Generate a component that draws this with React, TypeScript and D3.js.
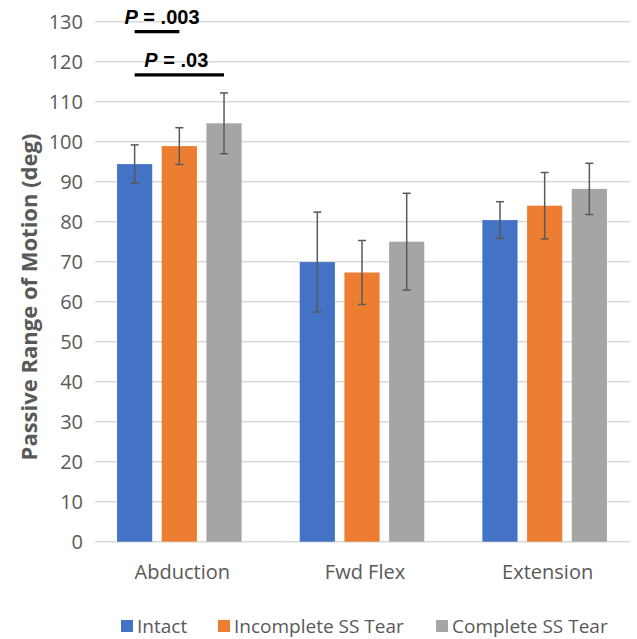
import React from 'react';
import * as d3 from 'd3';

const categories = ['Abduction', 'Fwd Flex', 'Extension'];
const seriesNames = ['Intact', 'Incomplete SS Tear', 'Complete SS Tear'];
const seriesColors = ['#4472C4', '#ED7D31', '#A5A5A5'];

const intactMeans = [94.4, 69.9, 80.4];
const intactErrors = [4.8, 12.5, 4.6];
const incompleteMeans = [98.9, 67.3, 84.0];
const incompleteErrors = [4.6, 8.0, 8.3];
const completeMeans = [104.6, 75.0, 88.2];
const completeErrors = [7.6, 12.1, 6.4];

const yTicks = d3.range(0, 131, 10);

// significance brackets: between series indices within Abduction
const sigLabels = ['.003', '.03'];
const sigFrom = [0, 0];
const sigTo = [1, 2];
const sigLevels = [127.5, 116.7];

const W = 637;
const H = 639;
const font = '"Open Sans", sans-serif';
const textGray = '#595959';

export default function App() {
  const means = [intactMeans, incompleteMeans, completeMeans];
  const errors = [intactErrors, incompleteErrors, completeErrors];

  const x = d3.scaleBand<string>().domain(categories).range([88, 636]);
  const xInner = d3
    .scaleBand<string>()
    .domain(seriesNames)
    .range([0, x.bandwidth()])
    .paddingInner(0.213)
    .paddingOuter(0.65);
  const y = d3.scaleLinear().domain([0, 130]).range([541.7, 21.7]);

  const gridLeft = 95;
  const gridRight = 630;

  const barCenter = (ci: number, si: number) =>
    (x(categories[ci]) as number) + (xInner(seriesNames[si]) as number) + xInner.bandwidth() / 2;

  const legendX = [121, 218, 436];

  return (
    <svg width={W} height={H} style={{ position: 'absolute', left: 0, top: 0, background: '#fff' }}>
      <rect width={W} height={H} fill="#fff" />
      {/* gridlines */}
      {yTicks.map((t) => (
        <line key={`g-${t}`} x1={gridLeft} x2={gridRight} y1={y(t)} y2={y(t)} stroke="#d9d9d9" strokeWidth={1.5} />
      ))}
      {/* y tick labels */}
      {yTicks.map((t) => (
        <text
          key={`yt-${t}`}
          x={83}
          y={y(t)}
          textAnchor="end"
          dominantBaseline="central"
          fontFamily={font}
          fontSize={20}
          fill={textGray}
        >
          {t}
        </text>
      ))}
      {/* y axis title */}
      <text
        transform="translate(28,297) rotate(-90)"
        textAnchor="middle"
        dominantBaseline="central"
        fontFamily={font}
        fontWeight="bold"
        fontSize={22}
        fill={textGray}
      >
        Passive Range of Motion (deg)
      </text>
      {/* bars */}
      {seriesNames.map((s, si) =>
        categories.map((c, ci) => {
          const v = means[si][ci];
          return (
            <rect
              key={`b-${si}-${ci}`}
              x={(x(c) as number) + (xInner(s) as number)}
              y={y(v)}
              width={xInner.bandwidth()}
              height={y(0) - y(v)}
              fill={seriesColors[si]}
            />
          );
        })
      )}
      {/* error bars */}
      {seriesNames.map((s, si) =>
        categories.map((c, ci) => {
          const v = means[si][ci];
          const e = errors[si][ci];
          const cx = barCenter(ci, si);
          return (
            <g key={`e-${si}-${ci}`} stroke="#595959" strokeWidth={1.5}>
              <line x1={cx} x2={cx} y1={y(v + e)} y2={y(v - e)} />
              <line x1={cx - 4} x2={cx + 4} y1={y(v + e)} y2={y(v + e)} />
              <line x1={cx - 4} x2={cx + 4} y1={y(v - e)} y2={y(v - e)} />
            </g>
          );
        })
      )}
      {/* category labels */}
      {categories.map((c) => (
        <text
          key={`c-${c}`}
          x={(x(c) as number) + x.bandwidth() / 2 + 3}
          y={579}
          textAnchor="middle"
          fontFamily={font}
          fontSize={20}
          fill={textGray}
        >
          {c}
        </text>
      ))}
      {/* significance */}
      {sigLabels.map((lab, i) => {
        const x1 = barCenter(0, sigFrom[i]);
        const x2 = barCenter(0, sigTo[i]);
        const ly = y(sigLevels[i]);
        return (
          <g key={`s-${i}`}>
            <line x1={x1} x2={x2} y1={ly} y2={ly} stroke="#000" strokeWidth={3.2} />
            <text
              x={(x1 + x2) / 2 + (i === 0 ? 5 : -3)}
              y={ly - 7.5}
              textAnchor="middle"
              fontFamily='"Liberation Sans", Arial, sans-serif'
              fontWeight="bold"
              fontSize={20}
              fill="#000"
            >
              <tspan fontStyle="italic">P</tspan>
              {` = ${lab}`}
            </text>
          </g>
        );
      })}
      {/* legend */}
      {seriesNames.map((s, si) => (
        <g key={`l-${s}`}>
          <rect x={legendX[si]} y={620} width={12} height={12} fill={seriesColors[si]} />
          <text x={legendX[si] + 16} y={633} fontFamily={font} fontSize={19} fill={textGray}>
            {s}
          </text>
        </g>
      ))}
    </svg>
  );
}
